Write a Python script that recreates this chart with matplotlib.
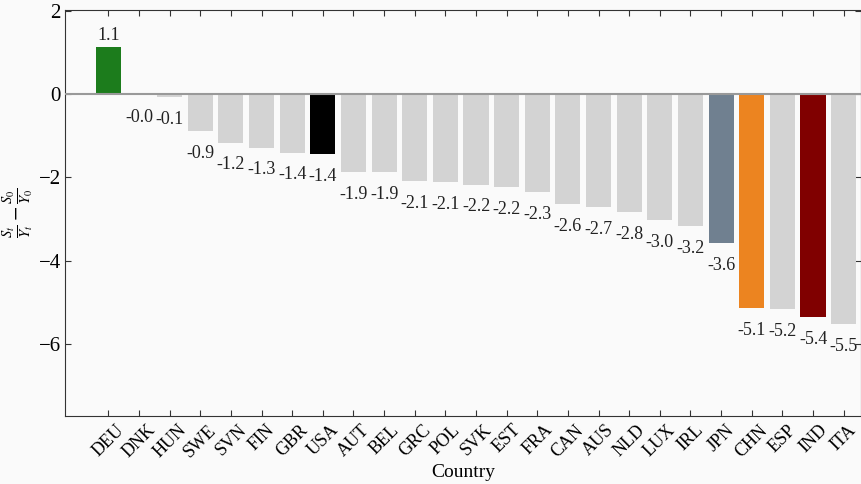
import matplotlib
matplotlib.use("Agg")
import matplotlib.pyplot as plt
import numpy as np

countries = ["DEU", "DNK", "HUN", "SWE", "SVN", "FIN", "GBR", "USA", "AUT", "BEL",
             "GRC", "POL", "SVK", "EST", "FRA", "CAN", "AUS", "NLD", "LUX", "IRL",
             "JPN", "CHN", "ESP", "IND", "ITA"]
values = [1.13, -0.02, -0.07, -0.88, -1.16, -1.28, -1.40, -1.43, -1.86, -1.86,
          -2.08, -2.11, -2.17, -2.22, -2.34, -2.64, -2.70, -2.84, -3.02, -3.16,
          -3.57, -5.13, -5.16, -5.36, -5.53]
highlight = {"DEU": "#1c7c1c", "USA": "#000000", "JPN": "#708090",
             "CHN": "#ec8420", "IND": "#800000"}
default_color = "#d3d3d3"

plt.rcParams['font.family'] = ['Liberation Serif', 'DejaVu Serif']
plt.rcParams['mathtext.fontset'] = 'stix'

fig = plt.figure(figsize=(8.62, 4.84), dpi=100, facecolor="#fafafa")
ax = fig.add_axes([0.0754, 0.1405, 0.9234, 0.8385])
ax.set_facecolor("#fafafa")

x = np.arange(len(countries))
colors = [highlight.get(c, default_color) for c in countries]
ax.bar(x, values, width=0.82, color=colors, zorder=2)
ax.axhline(0, color="#999999", lw=1.5, zorder=3)

for xi, v in zip(x, values):
    if v >= 0:
        ax.annotate(f"{v:.1f}", (xi, v), xytext=(0, 2), textcoords="offset points",
                    ha="center", va="bottom", fontsize=13, color="#222222")
    else:
        ax.annotate(f"{v:.1f}", (xi, v), xytext=(0, -10), textcoords="offset points",
                    ha="center", va="top", fontsize=13, color="#222222")

ax.set_xlim(-1.415, 24.565)
ax.set_ylim(-7.73, 2.02)
ax.set_yticks([-6, -4, -2, 0, 2])
ax.set_xticks(x)
ax.set_xticklabels(countries, rotation=45, fontsize=13)
ax.tick_params(axis="y", labelsize=15, pad=3)
ax.tick_params(axis="x", pad=4)
ax.tick_params(direction="in", top=True, right=True, length=4, color="#333333")
ax.set_xlabel("Country", fontsize=14, labelpad=2)
ax.set_ylabel(r"$\frac{S_t}{Y_t}-\frac{S_0}{Y_0}$", fontsize=15, labelpad=2)
for s in ax.spines.values():
    s.set_color("#333333")

fig.savefig("out.png", dpi=100, facecolor=fig.get_facecolor())
